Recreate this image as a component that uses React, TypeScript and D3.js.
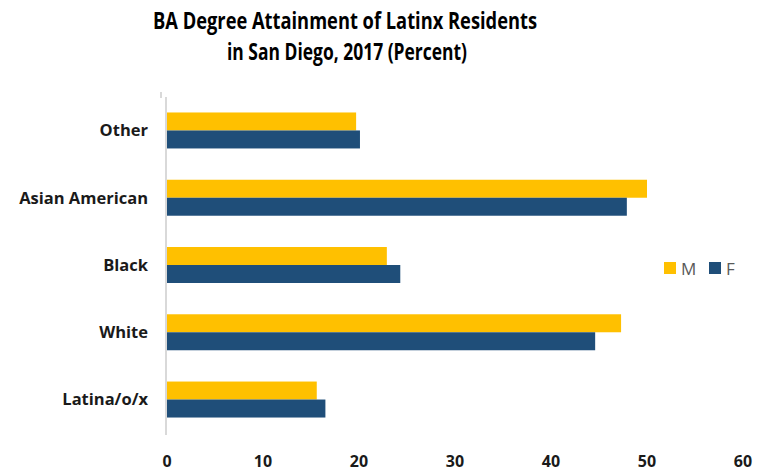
import * as d3 from "d3";

const categories = ["Other", "Asian American", "Black", "White", "Latina/o/x"];
const seriesNames = ["M", "F"];
const maleValues = [19.7, 50.0, 22.9, 47.3, 15.6];
const femaleValues = [20.1, 47.9, 24.3, 44.6, 16.5];
const xTicks = [0, 10, 20, 30, 40, 50, 60];
const colors = ["#FFC000", "#1F4E79"];

const WIDTH = 763;
const HEIGHT = 472;
const FONT = "'Open Sans', Arial, sans-serif";

export default function App() {
  const x = d3.scaleLinear().domain([0, 60]).range([167, 743]);
  const y = d3.scaleBand<string>().domain(categories).range([97, 433]).paddingInner(0.465).paddingOuter(0.23);
  const sub = d3.scaleBand<string>().domain(seriesNames).range([0, y.bandwidth()]);
  const series = [maleValues, femaleValues];

  return (
    <svg width={WIDTH} height={HEIGHT} style={{ position: "absolute", left: 0, top: 0 }} fontFamily={FONT}>
      <rect width={WIDTH} height={HEIGHT} fill="#fff" />
      {/* title, squeezed to match the narrow original font */}
      <text x={345} y={29} textAnchor="middle" fontWeight="bold" fontSize={23} fill="#000"
        textLength={384} lengthAdjust="spacingAndGlyphs">
        BA Degree Attainment of Latinx Residents
      </text>
      <text x={347} y={60} textAnchor="middle" fontWeight="bold" fontSize={23} fill="#000"
        textLength={240} lengthAdjust="spacingAndGlyphs">
        in San Diego, 2017 (Percent)
      </text>

      {/* category axis */}
      <line x1={x(0) - 1} x2={x(0) - 1} y1={97} y2={435} stroke="#d9d9d9" strokeWidth={2} />
      <line x1={161} x2={161} y1={92} y2={98} stroke="#d9d9d9" strokeWidth={2} />

      {categories.map((c, i) => (
        <g key={c}>
          {series.map((vals, s) => (
            <rect
              key={s}
              x={x(0)}
              y={(y(c) ?? 0) + (sub(seriesNames[s]) ?? 0)}
              width={x(vals[i]) - x(0)}
              height={sub.bandwidth()}
              fill={colors[s]}
            />
          ))}
          <text
            x={148}
            y={(y(c) ?? 0) + y.bandwidth() / 2}
            dy="0.35em"
            textAnchor="end"
            fontWeight="bold"
            fontSize={16.5}
            fill="#1a1a1a"
          >
            {c}
          </text>
        </g>
      ))}

      {xTicks.map((t) => (
        <text key={t} x={x(t)} y={467} textAnchor="middle" fontWeight="bold" fontSize={16} fill="#1a1a1a">
          {t}
        </text>
      ))}

      {/* legend */}
      {seriesNames.map((n, i) => (
        <g key={n} transform={`translate(${664 + i * 45},262)`}>
          <rect width={12} height={12} fill={colors[i]} />
          <text x={17} y={12.5} fontSize={17} fill="#595959">
            {n}
          </text>
        </g>
      ))}
    </svg>
  );
}
